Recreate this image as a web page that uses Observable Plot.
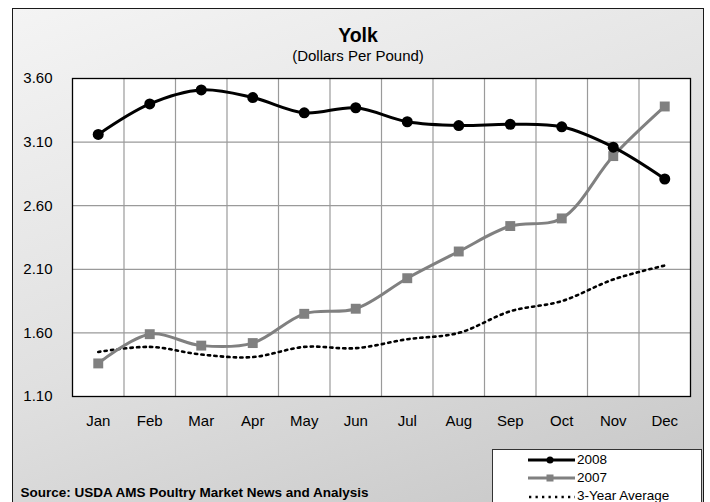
<!DOCTYPE html>
<html>
<head>
<meta charset="utf-8">
<script src="https://cdn.jsdelivr.net/npm/d3@7"></script>
<script src="https://cdn.jsdelivr.net/npm/@observablehq/plot@0.6"></script>
<style>
  html, body { margin: 0; padding: 0; background: #fff; }
  #wrap { position: relative; width: 710px; height: 502px; overflow: hidden; font-family: "Liberation Sans", Arial, sans-serif; color: #000; }
  #bg { position: absolute; left: 12px; top: 8px; width: 690px; height: 520px; border: 1px solid #1a1a1a; background: linear-gradient(160deg, #f4f4f4 0%, #e0e0e0 50%, #c4c4c4 100%); }
  .t { position: absolute; white-space: nowrap; line-height: 1; }
  #chart { position: absolute; left: 0; top: 0; }
  #legend { position: absolute; left: 492px; top: 449px; width: 208px; height: 70px; border: 1px solid #333; background: #fff; }
  .lrow { position: absolute; left: 35px; height: 14px; font-size: 13.5px; line-height: 1; }
  .lrow svg { position: absolute; left: 0; top: 1px; }
  .lrow span { position: absolute; left: 49px; top: 0; white-space: nowrap; }
</style>
</head>
<body>
<div id="wrap">
  <div id="bg"></div>
  <div class="t" style="left:0;width:716px;text-align:center;top:25.5px;font-size:19.5px;font-weight:bold;">Yolk</div>
  <div class="t" style="left:0;width:716px;text-align:center;top:48.3px;font-size:15px;">(Dollars Per Pound)</div>
  <div id="chart"></div>
  <div class="t" style="left:20.5px;top:485.6px;font-size:13.5px;font-weight:bold;">Source: USDA AMS Poultry Market News and Analysis</div>
  <div id="legend">
    <div class="lrow" style="top:2.6px;">
      <svg width="47" height="12"><line x1="0" y1="6" x2="47" y2="6" stroke="#000" stroke-width="3"/><circle cx="22" cy="6" r="3.5" fill="#000"/></svg>
      <span>2008</span>
    </div>
    <div class="lrow" style="top:20.6px;">
      <svg width="47" height="12"><line x1="0" y1="6" x2="47" y2="6" stroke="#808080" stroke-width="3"/><rect x="18.5" y="2.5" width="7" height="7" fill="#808080"/></svg>
      <span>2007</span>
    </div>
    <div class="lrow" style="top:38.6px;">
      <svg width="47" height="12"><line x1="1" y1="7" x2="47" y2="7" stroke="#000" stroke-width="2.6" stroke-dasharray="2.3 4.2"/></svg>
      <span>3-Year Average</span>
    </div>
  </div>
</div>
<script>
const months = ["Jan","Feb","Mar","Apr","May","Jun","Jul","Aug","Sep","Oct","Nov","Dec"];
const y2008 = [3.16, 3.40, 3.51, 3.45, 3.33, 3.37, 3.26, 3.23, 3.24, 3.22, 3.06, 2.81];
const y2007 = [1.36, 1.59, 1.50, 1.52, 1.75, 1.79, 2.03, 2.24, 2.44, 2.50, 2.99, 3.38];
const avg3  = [1.45, 1.49, 1.43, 1.41, 1.49, 1.48, 1.55, 1.60, 1.77, 1.85, 2.02, 2.13];
const yTicks = [1.10, 1.60, 2.10, 2.60, 3.10, 3.60];

const idx = d3.range(months.length);
const rows = (vals) => idx.map(i => ({i, v: vals[i]}));
const d2008 = rows(y2008), d2007 = rows(y2007), dAvg = rows(avg3);
const gridX = idx.slice(0, -1).map(i => i + 0.5);

const chart = Plot.plot({
  width: 710,
  height: 502,
  marginLeft: 72,
  marginRight: 20,
  marginTop: 78,
  marginBottom: 106,
  style: { background: "transparent", fontFamily: "'Liberation Sans', Arial, sans-serif", fontSize: "15px", color: "#000" },
  x: { domain: [-0.5, 11.5], label: null },
  y: { domain: [1.1, 3.6], label: null },
  marks: [
    Plot.frame({ fill: "white", stroke: "none" }),
    Plot.ruleY(yTicks.slice(1, -1), { stroke: "#9a9a9a", strokeWidth: 1.2, strokeOpacity: 1 }),
    Plot.ruleX(gridX, { stroke: "#9a9a9a", strokeWidth: 1.2, strokeOpacity: 1 }),
    Plot.frame({ stroke: "#000", strokeWidth: 1.3 }),
    Plot.axisX({ ticks: idx, tickFormat: i => months[i], tickSize: 0, tickPadding: 19, fontSize: 15, label: null }),
    Plot.axisY({ ticks: yTicks, tickFormat: d => d.toFixed(2), tickSize: 0, tickPadding: 20, fontSize: 15, label: null }),
    Plot.line(dAvg, { x: "i", y: "v", stroke: "#000", strokeWidth: 2.6, strokeDasharray: "2.3 4.2", curve: "catmull-rom" }),
    Plot.line(d2007, { x: "i", y: "v", stroke: "#808080", strokeWidth: 3, curve: "catmull-rom" }),
    Plot.dot(d2007, { x: "i", y: "v", symbol: "square", r: 5.6, fill: "#808080", stroke: "none" }),
    Plot.line(d2008, { x: "i", y: "v", stroke: "#000", strokeWidth: 3, curve: "catmull-rom" }),
    Plot.dot(d2008, { x: "i", y: "v", symbol: "circle", r: 5.5, fill: "#000", stroke: "none" })
  ]
});
document.getElementById("chart").appendChild(chart);
</script>
</body>
</html>
